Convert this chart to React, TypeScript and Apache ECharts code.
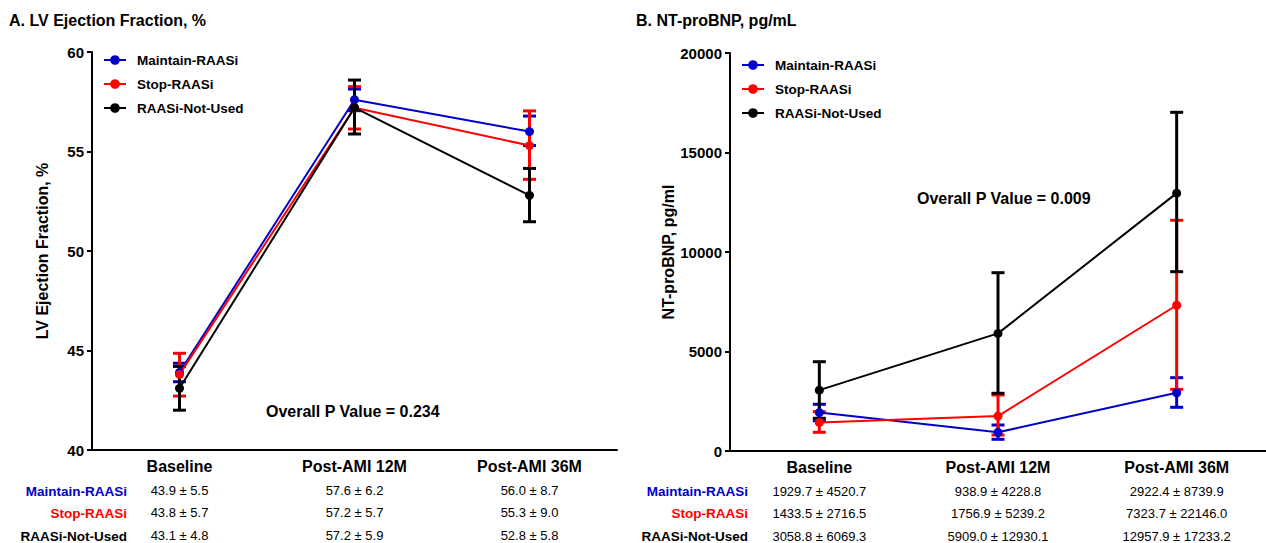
import React, { useEffect, useRef } from "react";
import * as echarts from "echarts";

const FONT = "'Liberation Sans', Arial, Helvetica, sans-serif";

const categories = ["Baseline", "Post-AMI 12M", "Post-AMI 36M"];
const groups = ["Maintain-RAASi", "Stop-RAASi", "RAASi-Not-Used"];
const groupColors = ["#0000c8", "#ff0000", "#000000"];

// A. LV Ejection Fraction (mean ± SD from table)
const efMaintainMean = [43.9, 57.6, 56.0];
const efMaintainSD = [5.5, 6.2, 8.7];
const efStopMean = [43.8, 57.2, 55.3];
const efStopSD = [5.7, 5.7, 9.0];
const efNotUsedMean = [43.1, 57.2, 52.8];
const efNotUsedSD = [4.8, 5.9, 5.8];
// error bar ends
const efMaintainLow = [43.43, 57.05, 55.3];
const efMaintainHigh = [44.36, 58.14, 56.78];
const efStopLow = [42.71, 56.13, 53.6];
const efStopHigh = [44.86, 58.26, 57.04];
const efNotUsedLow = [42.0, 55.88, 51.47];
const efNotUsedHigh = [44.2, 58.59, 54.15];

// B. NT-proBNP (mean ± SD from table)
const bnpMaintainMean = [1929.7, 938.9, 2922.4];
const bnpMaintainSD = [4520.7, 4228.8, 8739.9];
const bnpStopMean = [1433.5, 1756.9, 7323.7];
const bnpStopSD = [2716.5, 5239.2, 22146.0];
const bnpNotUsedMean = [3058.8, 5909.0, 12957.9];
const bnpNotUsedSD = [6069.3, 12930.1, 17233.2];
// error bar ends
const bnpMaintainLow = [1520, 588, 2196];
const bnpMaintainHigh = [2347, 1306, 3684];
const bnpStopLow = [940, 804, 3100];
const bnpStopHigh = [1975, 2814, 11593];
const bnpNotUsedLow = [1643, 2900, 9010];
const bnpNotUsedHigh = [4487, 8960, 17020];

const efMin = 40, efMax = 60, efStep = 5;
const bnpMin = 0, bnpMax = 20000, bnpStep = 5000;

const titleA = "A. LV Ejection Fraction, %";
const titleB = "B. NT-proBNP, pg/mL";
const yNameA = "LV Ejection Fraction, %";
const yNameB = "NT-proBNP, pg/ml";
const pTextA = "Overall P Value = 0.234";
const pTextB = "Overall P Value = 0.009";

const fmt = (m: number, s: number) => `${m.toFixed(1)} ± ${s.toFixed(1)}`;

function tableFormatter(means: number[][], sds: number[][]) {
  return (value: string, index: number) =>
    `{cat|${value}}\n` +
    means.map((m, g) => `{v|${fmt(m[index], sds[g][index])}}`).join("\n");
}

function lineSeries(name: string, color: string, data: number[], axis: number) {
  return {
    type: "line",
    name,
    xAxisIndex: axis,
    yAxisIndex: axis,
    data,
    symbol: "circle",
    symbolSize: 9,
    lineStyle: { color, width: 2 },
    itemStyle: { color },
    z: 4,
  };
}

function errorSeries(name: string, color: string, low: number[], high: number[], axis: number) {
  return {
    type: "custom",
    name,
    xAxisIndex: axis,
    yAxisIndex: axis,
    data: low.map((l, i) => [i, l, high[i]]),
    encode: { x: 0, y: [1, 2] },
    z: 3,
    renderItem: (params: any, api: any) => {
      const x = api.value(0);
      const lo = api.coord([x, api.value(1)]);
      const hi = api.coord([x, api.value(2)]);
      const hw = 6.5;
      const style = { stroke: color, lineWidth: 3, fill: "none" };
      return {
        type: "group",
        children: [
          { type: "line", shape: { x1: lo[0], y1: lo[1], x2: hi[0], y2: hi[1] }, style },
          { type: "line", shape: { x1: lo[0] - hw, y1: lo[1], x2: lo[0] + hw, y2: lo[1] }, style },
          { type: "line", shape: { x1: hi[0] - hw, y1: hi[1], x2: hi[0] + hw, y2: hi[1] }, style },
        ],
      };
    },
  };
}

const axisLineStyle = { lineStyle: { color: "#000", width: 2 } };

function xAxisFor(grid: number, means: number[][], sds: number[][]) {
  return {
    type: "category",
    gridIndex: grid,
    data: categories,
    boundaryGap: true,
    axisLine: axisLineStyle,
    axisTick: { alignWithLabel: true, length: 5, lineStyle: { color: "#000", width: 2 } },
    axisLabel: {
      interval: 0,
      margin: 3,
      color: "#000",
      fontFamily: FONT,
      formatter: tableFormatter(means, sds),
      rich: {
        cat: { fontSize: 16, fontWeight: "bold", lineHeight: 26, fontFamily: FONT, color: "#000" },
        v: { fontSize: 13, lineHeight: 22.5, fontFamily: FONT, color: "#000" },
      },
    },
  };
}

function yAxisFor(grid: number, min: number, max: number, step: number, name: string, gap: number) {
  return {
    type: "value",
    gridIndex: grid,
    min,
    max,
    interval: step,
    name,
    nameLocation: "middle",
    nameGap: gap,
    nameTextStyle: { fontSize: 16, fontWeight: "bold", fontFamily: FONT, color: "#000" },
    axisLine: { show: true, ...axisLineStyle },
    axisTick: { show: true, length: 5, lineStyle: { color: "#000", width: 2 } },
    splitLine: { show: false },
    axisLabel: {
      fontSize: 15,
      fontWeight: "bold",
      fontFamily: FONT,
      color: "#000",
      margin: 8,
      formatter: (v: number) => String(v),
    },
  };
}

function legendFor(left: number, top: number) {
  return {
    orient: "vertical",
    left,
    top,
    padding: 0,
    itemGap: 10,
    itemWidth: 22,
    itemHeight: 12,
    data: groups,
    selectedMode: false,
    textStyle: { fontSize: 13.5, fontWeight: "bold", fontFamily: FONT, color: "#000", padding: [0, 0, 0, 6] },
  };
}

function rowLabels(right: number) {
  return groups.map((g, i) => ({
    type: "text",
    x: right,
    y: 491 + i * 22.5,
    style: {
      text: g,
      align: "right",
      verticalAlign: "middle",
      fill: groupColors[i],
      font: `bold 13.5px ${FONT}`,
    },
  }));
}

export default function App() {
  const ref = useRef<HTMLDivElement>(null);
  useEffect(() => {
    if (!ref.current) return;
    const chart = echarts.init(ref.current, undefined, { renderer: "svg" });
    const efMeans = [efMaintainMean, efStopMean, efNotUsedMean];
    const efSDs = [efMaintainSD, efStopSD, efNotUsedSD];
    const efLows = [efMaintainLow, efStopLow, efNotUsedLow];
    const efHighs = [efMaintainHigh, efStopHigh, efNotUsedHigh];
    const bnpMeans = [bnpMaintainMean, bnpStopMean, bnpNotUsedMean];
    const bnpSDs = [bnpMaintainSD, bnpStopSD, bnpNotUsedSD];
    const bnpLows = [bnpMaintainLow, bnpStopLow, bnpNotUsedLow];
    const bnpHighs = [bnpMaintainHigh, bnpStopHigh, bnpNotUsedHigh];

    const series: any[] = [];
    groups.forEach((g, i) => series.push(lineSeries(g, groupColors[i], efMeans[i], 0)));
    groups.forEach((g, i) => series.push(lineSeries(g, groupColors[i], bnpMeans[i], 1)));
    groups.forEach((g, i) => series.push(errorSeries(g, groupColors[i], efLows[i], efHighs[i], 0)));
    groups.forEach((g, i) => series.push(errorSeries(g, groupColors[i], bnpLows[i], bnpHighs[i], 1)));

    chart.setOption({
      animation: false,
      backgroundColor: "#fff",
      textStyle: { fontFamily: FONT },
      grid: [
        { left: 92, top: 52, width: 525, height: 398, containLabel: false },
        { left: 730, top: 53, width: 552, height: 398, containLabel: false },
      ],
      xAxis: [xAxisFor(0, efMeans, efSDs), xAxisFor(1, bnpMeans, bnpSDs)],
      yAxis: [
        yAxisFor(0, efMin, efMax, efStep, yNameA, 42),
        yAxisFor(1, bnpMin, bnpMax, bnpStep, yNameB, 54),
      ],
      legend: [legendFor(103, 53), legendFor(741, 58)],
      series,
      graphic: [
        { type: "text", x: 9, y: 20, style: { text: titleA, font: `bold 16px ${FONT}`, fill: "#000", verticalAlign: "middle" } },
        { type: "text", x: 636, y: 20, style: { text: titleB, font: `bold 16px ${FONT}`, fill: "#000", verticalAlign: "middle" } },
        { type: "text", x: 266, y: 411, style: { text: pTextA, font: `bold 16px ${FONT}`, fill: "#000", verticalAlign: "middle" } },
        { type: "text", x: 917, y: 198, style: { text: pTextB, font: `bold 16px ${FONT}`, fill: "#000", verticalAlign: "middle" } },
        ...rowLabels(127),
        ...rowLabels(748),
      ],
    });
    return () => chart.dispose();
  }, []);
  return (
    <div
      ref={ref}
      style={{ position: "fixed", left: 0, top: 0, width: 1266, height: 543, background: "#fff" }}
    />
  );
}
